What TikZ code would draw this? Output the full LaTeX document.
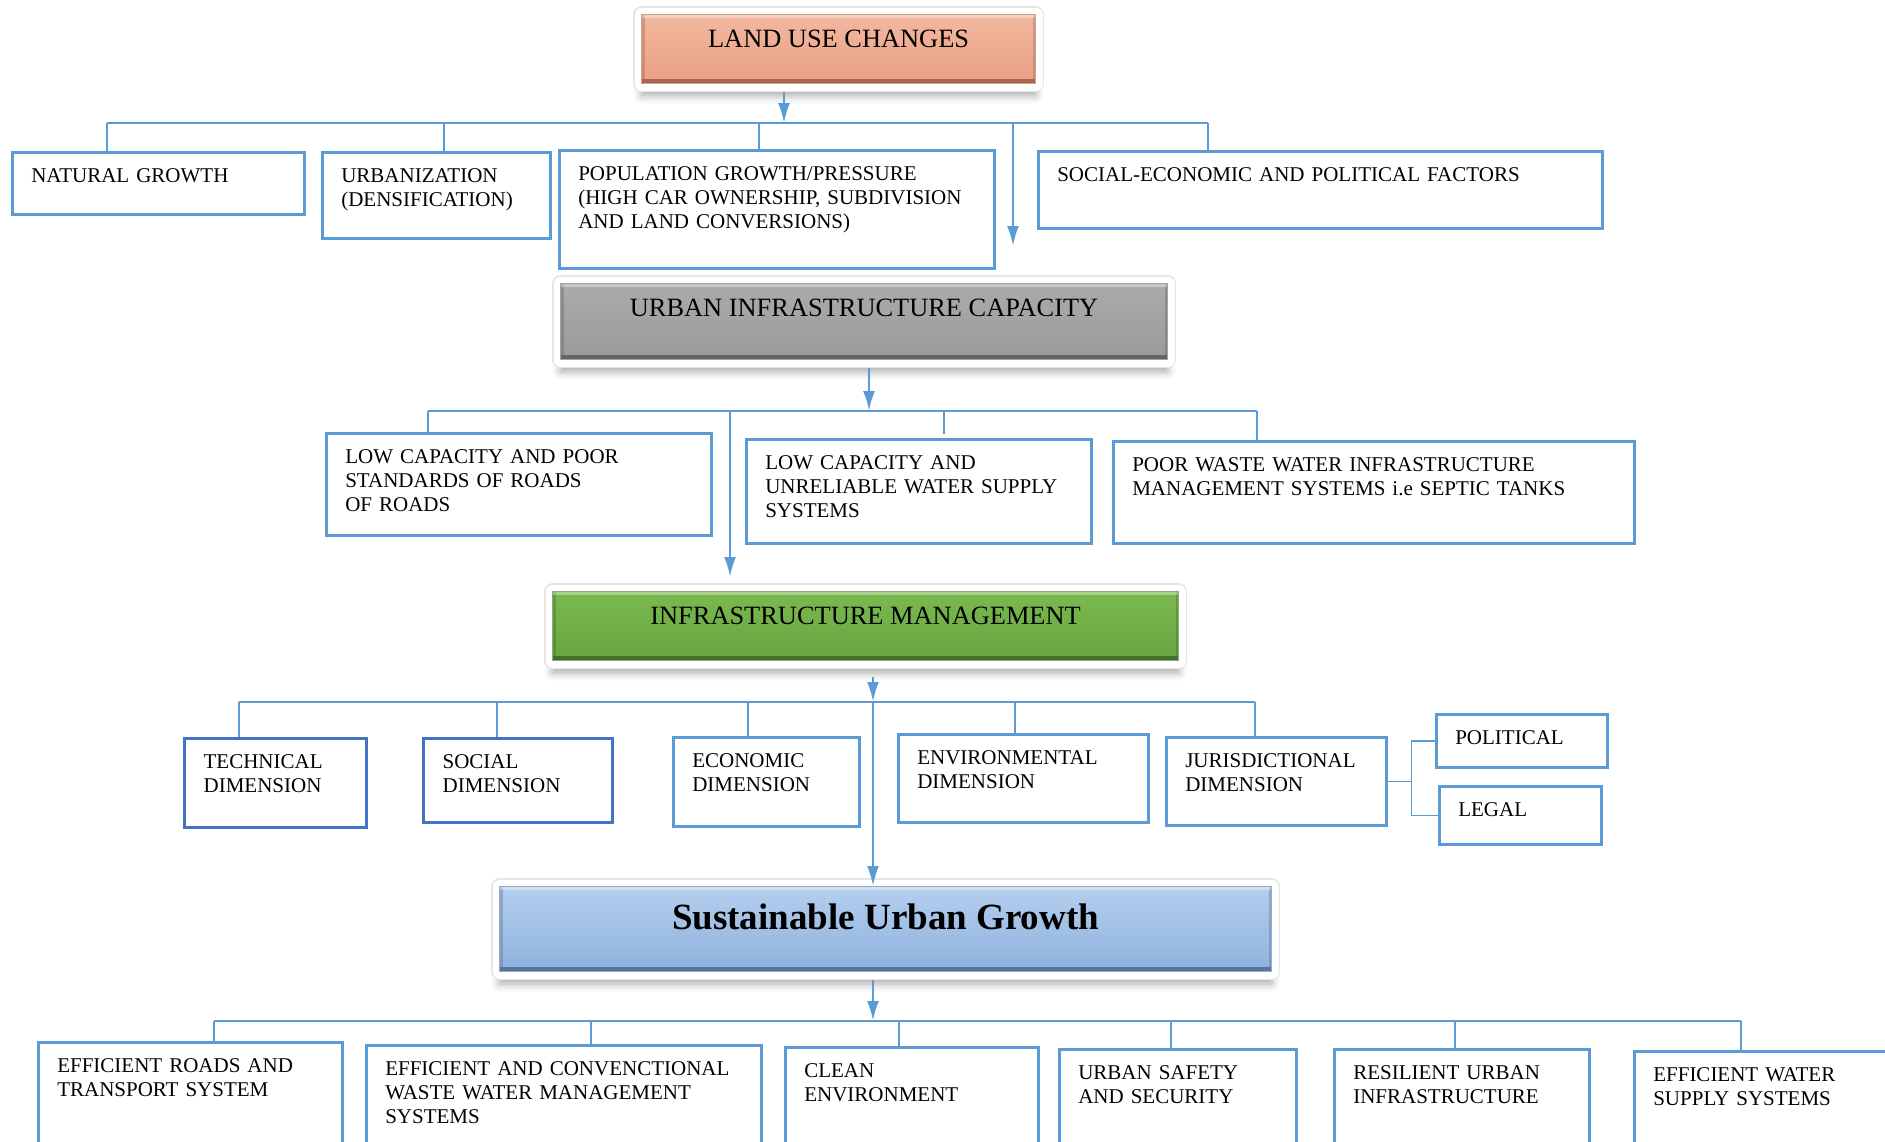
\documentclass[tikz,border=0pt]{standalone}
\usepackage{fontspec}
\setmainfont{Liberation Serif}
\usetikzlibrary{arrows.meta,shadows.blur}

\definecolor{lineblue}{HTML}{5B9BD5}
\definecolor{darkblue}{HTML}{4472C4}
\definecolor{landtop}{HTML}{F3B8A0}
\definecolor{landbot}{HTML}{E9A083}
\definecolor{landedge}{HTML}{A9654E}
\definecolor{uictop}{HTML}{ABABAB}
\definecolor{uicbot}{HTML}{9A9A9A}
\definecolor{uicedge}{HTML}{646464}
\definecolor{imtop}{HTML}{7BBA4F}
\definecolor{imbot}{HTML}{67A33F}
\definecolor{imedge}{HTML}{41702A}
\definecolor{sugtop}{HTML}{B5CEEE}
\definecolor{sugbot}{HTML}{8DB2DD}
\definecolor{sugedge}{HTML}{56749C}

\begin{document}
\begin{tikzpicture}[x=0.5pt, y=-0.5pt,
    cell/.style = {draw=lineblue, line width=1.3pt, anchor=north west, align=left,
      inner xsep=9.5pt, inner ysep=7pt, text height=8pt,
      font=\fontsize{10.5}{12}\selectfont},
    head/.style = {anchor=north west, align=center, inner xsep=0pt, inner ysep=7.5pt,
      text height=8.7pt, font=\fontsize{13.2}{15}\selectfont,
      preaction={draw=black!10, line width=8.4pt, line join=round,
        blur shadow={shadow xshift=0pt, shadow yshift=-6pt,
          shadow blur radius=4pt, shadow opacity=35}},
      preaction={fill=white, draw=white, line width=7pt, line join=round},
      top color=#1top, bottom color=#1bot, draw=#1edge!60, line width=0.6pt,
      path picture={
        \fill[#1edge] ([yshift=2.5pt]path picture bounding box.south west)
          rectangle (path picture bounding box.south east);
        \fill[#1edge, opacity=.4] (path picture bounding box.south west)
          rectangle ([xshift=1.5pt]path picture bounding box.north west);
        \fill[#1edge, opacity=.4] (path picture bounding box.south east)
          rectangle ([xshift=-1.5pt]path picture bounding box.north east);
        \fill[white, opacity=.35] (path picture bounding box.north west)
          rectangle ([yshift=-1.5pt]path picture bounding box.north east);}},
    link/.style = {draw=lineblue, line width=0.8pt},
    arrow/.style = {draw=lineblue, line width=1.3pt, -{Latex[length=10pt, width=6pt]}}]

  \useasboundingbox (0,0) rectangle (1885,1141);
  \clip (0,0) rectangle (1885,1141);

  % main levels
  \node[head=land, minimum width=197pt, text depth=10.8pt] (land) at (641,14) {LAND USE CHANGES};
  \node[head=uic, minimum width=303.5pt, text depth=14.3pt] (uic) at (560,283) {URBAN INFRASTRUCTURE CAPACITY};
  \node[head=im, minimum width=313pt, text depth=10.8pt] (im) at (552,591) {INFRASTRUCTURE MANAGEMENT};
  \node[head=sug, minimum width=386pt, text height=14pt, text depth=13.5pt,
    font=\fontsize{18.5}{21}\selectfont\bfseries] (sug) at (499,886) {Sustainable Urban Growth};

  % drivers
  \node[cell, text width=127pt, text depth=9pt] (natural) at (11,151) {NATURAL GROWTH};
  \node[cell, text width=95pt, text depth=21pt] (urban) at (321,151) {URBANIZATION\\(DENSIFICATION)};
  \node[cell, text width=198.5pt, text depth=37pt] (popul) at (558,149)
    {POPULATION GROWTH/PRESSURE\\(HIGH CAR OWNERSHIP, SUBDIVISION\\AND LAND CONVERSIONS)};
  \node[cell, text width=263pt, text depth=16.5pt] (socio) at (1037,150) {SOCIAL-ECONOMIC AND POLITICAL FACTORS};

  % capacity problems
  \node[cell, text width=173.5pt, text depth=29pt] (roads) at (325,432)
    {LOW CAPACITY AND POOR\\STANDARDS OF ROADS\\OF ROADS};
  \node[cell, text width=153.5pt, text depth=30pt] (water) at (745,438)
    {LOW CAPACITY AND\\UNRELIABLE WATER SUPPLY\\SYSTEMS};
  \node[cell, text width=241.5pt, text depth=29pt] (waste) at (1112,440)
    {POOR WASTE WATER INFRASTRUCTURE\\MANAGEMENT SYSTEMS i.e SEPTIC TANKS};

  % dimensions
  \node[cell, draw=darkblue, line width=1.6pt, text width=72pt, text depth=22.5pt] (tech) at (183,737) {TECHNICAL\\DIMENSION};
  \node[cell, draw=darkblue, line width=1.6pt, text width=75.5pt, text depth=20pt] (social) at (422,737) {SOCIAL\\DIMENSION};
  \node[cell, text width=74pt, text depth=22.5pt] (econ) at (672,736) {ECONOMIC\\DIMENSION};
  \node[cell, text width=106pt, text depth=22pt] (env) at (897,733) {ENVIRONMENTAL\\DIMENSION};
  \node[cell, text width=91pt, text depth=22pt] (juris) at (1165,736) {JURISDICTIONAL\\DIMENSION};
  \node[cell, text width=66.5pt, text depth=4.5pt] (political) at (1435,713) {POLITICAL};
  \node[cell, text width=62pt, text depth=7pt] (legal) at (1438,785) {LEGAL};

  % outcomes
  \node[cell, text width=133pt, text depth=37.5pt] (effroads) at (37,1041) {EFFICIENT ROADS AND\\TRANSPORT SYSTEM};
  \node[cell, text width=178.5pt, text depth=36pt] (effwaste) at (365,1044)
    {EFFICIENT AND CONVENCTIONAL\\WASTE WATER MANAGEMENT\\SYSTEMS};
  \node[cell, text width=107.5pt, text depth=35pt] (clean) at (784,1046) {CLEAN\\ENVIRONMENT};
  \node[cell, text width=99.5pt, text depth=34pt] (safety) at (1058,1048) {URBAN SAFETY\\AND SECURITY};
  \node[cell, text width=108.5pt, text depth=34pt] (resilient) at (1333,1048) {RESILIENT URBAN\\INFRASTRUCTURE};
  \node[cell, text width=111pt, text depth=33pt] (effwater) at (1633,1050) {EFFICIENT WATER\\SUPPLY SYSTEMS};

  % bus under land use changes
  \coordinate (n1) at (107,123);
  \coordinate (n2) at (444,123);
  \coordinate (n3) at (759,123);
  \coordinate (n4) at (1208,123);
  \coordinate (j1) at (784,123);
  \coordinate (f1) at (1013,246);
  \draw[arrow] ([yshift=-4pt]j1 |- land.south) -- (j1);
  \draw[link] (n1) -- (n4);
  \draw[link] (n1) -- (n1 |- natural.north);
  \draw[link] (n2) -- (n2 |- urban.north);
  \draw[link] (n3) -- (n3 |- popul.north);
  \draw[link] (n4) -- (n4 |- socio.north);
  \draw[arrow] (f1 |- n1) -- (f1);

  % bus under infrastructure capacity
  \coordinate (m1) at (428,411);
  \coordinate (m2) at (944,411);
  \coordinate (m3) at (1257,411);
  \coordinate (j2) at (869,411);
  \coordinate (f2) at (730,577);
  \draw[arrow] ([yshift=-4pt]j2 |- uic.south) -- (j2);
  \draw[link] (m1) -- (m3);
  \draw[link] (m1) -- (m1 |- roads.north);
  \draw[link] (m2) -- ([yshift=2pt]m2 |- water.north);
  \draw[link] (m3) -- (m3 |- waste.north);
  \draw[arrow] (f2 |- m1) -- (f2);

  % bus under infrastructure management
  \coordinate (d1) at (239,702);
  \coordinate (d2) at (497,702);
  \coordinate (d3) at (748,702);
  \coordinate (d4) at (1015,702);
  \coordinate (d5) at (1255,702);
  \coordinate (j3) at (873,702);
  \draw[arrow] ([yshift=-8pt]j3 |- im.south) -- (j3);
  \draw[link] (d1) -- (d5);
  \draw[link] (d1) -- (d1 |- tech.north);
  \draw[link] (d2) -- (d2 |- social.north);
  \draw[link] (d3) -- (d3 |- econ.north);
  \draw[link] (d4) -- (d4 |- env.north);
  \draw[link] (d5) -- (d5 |- juris.north);
  \draw[arrow] (j3) -- (j3 |- sug.north);

  % jurisdictional split
  \coordinate (fork) at ([xshift=12pt]juris.east);
  \draw[link] (juris.east) -- (fork);
  \draw[link] (political.west) -| (fork) |- (legal.west);

  % bus under sustainable urban growth
  \coordinate (e1) at (214,1021);
  \coordinate (e2) at (591,1021);
  \coordinate (e3) at (899,1021);
  \coordinate (e4) at (1171,1021);
  \coordinate (e5) at (1455,1021);
  \coordinate (e6) at (1741,1021);
  \coordinate (j4) at (873,1021);
  \draw[arrow] ([yshift=-4pt]j4 |- sug.south) -- (j4);
  \draw[link] (e1) -- (e6);
  \draw[link] (e1) -- (e1 |- effroads.north);
  \draw[link] (e2) -- (e2 |- effwaste.north);
  \draw[link] (e3) -- (e3 |- clean.north);
  \draw[link] (e4) -- (e4 |- safety.north);
  \draw[link] (e5) -- (e5 |- resilient.north);
  \draw[link] (e6) -- (e6 |- effwater.north);
\end{tikzpicture}
\end{document}
